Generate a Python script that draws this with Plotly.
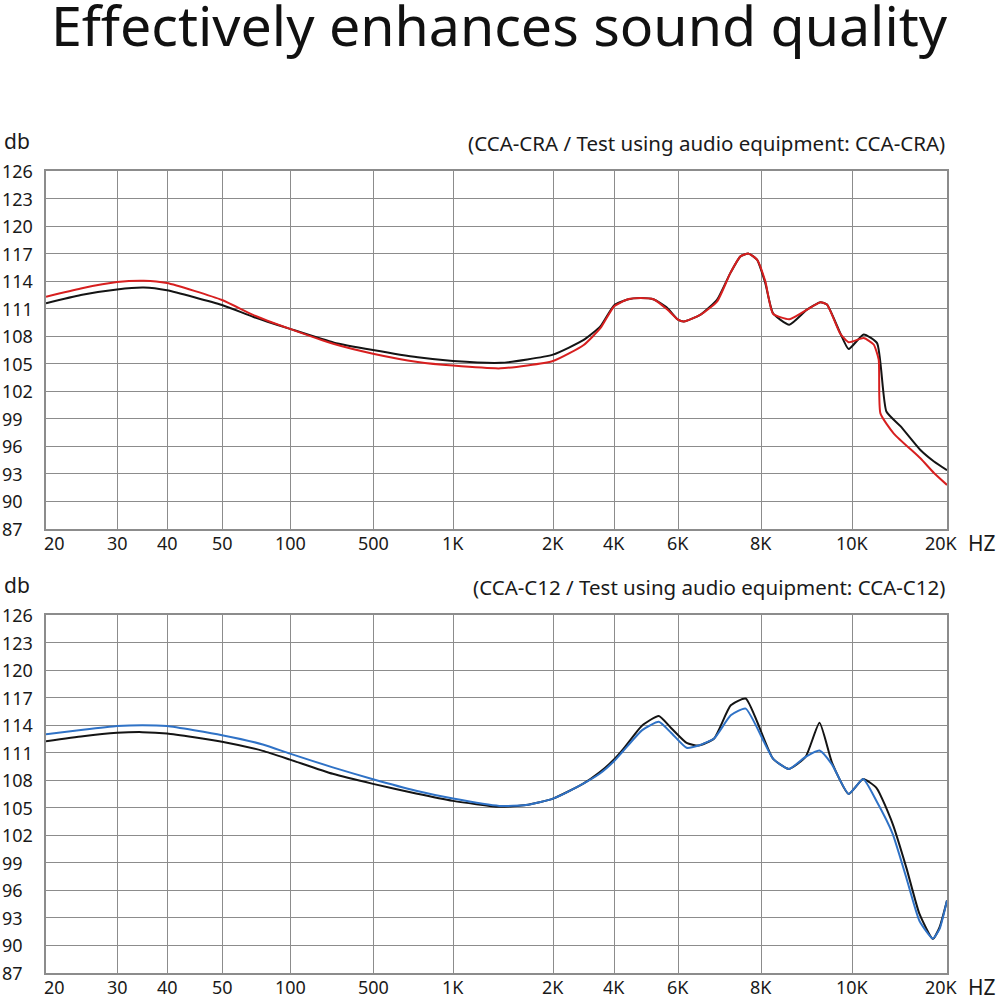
import numpy as np
import plotly.graph_objects as go

# x axis of the printed chart: labelled frequencies and their grid spacing
tick_hz = [20, 30, 40, 50, 100, 500, 1000, 2000, 4000, 6000, 8000, 10000, 20000]
tick_labels = ["20", "30", "40", "50", "100", "500", "1K", "2K", "4K", "6K", "8K", "10K", "20K"]
db_ticks = [87, 90, 93, 96, 99, 102, 105, 108, 111, 114, 117, 120, 123, 126]

# top chart: CCA-CRA (black = reference, red = measured)
cra_ref_hz = [20, 24.4, 30, 35, 40, 50, 69, 100, 235, 500, 737, 1000, 1392, 2000, 2835, 3434,
              4000, 4353, 4736, 5152, 5608, 6000, 6125, 6488, 6873, 7196, 7450, 7664, 7890,
              8084, 8239, 8575, 8955, 9256, 9405, 9714, 9918, 10890, 12008, 12852, 14241,
              16472, 18188, 20000]
cra_ref_db = [111.6, 112.5, 113.1, 113.3, 113.0, 111.4, 110.1, 108.8, 107.3, 106.5, 105.7, 105.3,
              105.1, 106.0, 107.6, 109.1, 111.36, 112.0, 112.16, 112.0, 111.07, 109.8, 109.6,
              110.35, 112.0, 114.9, 116.7, 117.0, 116.35, 113.8, 110.5, 109.25, 110.9, 111.7,
              111.45, 108.35, 106.6, 108.2, 107.25, 99.8, 98.2, 95.6, 94.35, 93.4]
cra_hz = [20, 24.4, 30, 35, 40, 50, 69, 100, 235, 500, 737, 1000, 1392, 2000, 2835, 3434,
          4000, 4353, 4736, 5152, 5608, 6000, 6125, 6488, 6873, 7196, 7450, 7664, 7890,
          8084, 8239, 8575, 8955, 9256, 9405, 9714, 9918, 10890, 11713, 12150, 12304, 13566,
          16472, 18188, 20000]
cra_db = [112.3, 113.2, 113.9, 114.05, 113.8, 111.95, 110.3, 108.8, 107.15, 106.1, 105.2, 104.8,
          104.5, 105.3, 107.05, 108.9, 111.25, 112.0, 112.16, 112.0, 110.9, 109.8, 109.6, 110.35,
          111.8, 114.9, 116.7, 117.0, 116.35, 114.0, 110.45, 109.85, 110.9, 111.7, 111.45, 108.3,
          107.35, 107.8, 107.1, 105.45, 99.6, 97.4, 94.7, 93.1, 91.8]

# bottom chart: CCA-C12 (black = reference, blue = measured)
c12_hz = [20, 24.7, 30, 34.7, 40, 50, 75.8, 100, 229, 500, 726, 1000, 1378, 1659, 2000, 2807,
          3396, 4000, 4234, 4782, 5313, 5742, 6182, 6444, 6801, 7204, 7587, 8238, 8567, 8924,
          9234, 9523, 9918, 10845, 11966, 13435, 14887, 16350, 18038, 18949, 20000]
c12_ref_db = [112.25, 112.8, 113.16, 113.24, 113.1, 112.2, 111.2, 110.25, 108.7, 107.6, 106.55,
              105.75, 105.1, 105.3, 106.0, 107.6, 108.86, 110.25, 111.35, 113.97, 115.0, 113.7,
              112.07, 111.78, 112.55, 116.16, 116.9, 110.36, 109.23, 110.54, 114.26, 109.9, 106.5,
              108.13, 107.15, 103.3, 98.4, 93.46, 90.7, 92.0, 94.9]
c12_db = [113.0, 113.5, 113.9, 114.0, 113.9, 112.9, 111.9, 110.9, 109.4, 108.1, 106.85, 106.0,
          105.2, 105.3, 106.0, 107.6, 108.7, 110.07, 111.16, 113.46, 114.37, 113.17, 111.53,
          111.78, 112.55, 115.07, 115.8, 110.36, 109.23, 110.54, 111.23, 109.7, 106.5, 108.13,
          105.7, 102.2, 97.3, 92.7, 90.75, 91.8, 94.9]

# the printed frequency axis is not a true log axis, each labelled step has its own width
tick_pos = [0, 71, 121, 176, 244, 327, 407, 507, 568, 632, 715, 806, 901]


def to_axis(hz):
    return np.interp(np.log(hz), np.log(tick_hz), tick_pos)


FONT = "Noto Sans"
GRID = "#8c8c8c"
BLACK = "#141414"
RED = "#d71f1f"
BLUE = "#2f72c6"

fig = go.Figure()
line_kw = dict(mode="lines", line_shape="spline", showlegend=False, hoverinfo="skip")
fig.add_trace(go.Scatter(x=to_axis(cra_ref_hz), y=cra_ref_db, line=dict(color=BLACK, width=2, smoothing=0.5),
                         xaxis="x", yaxis="y", **line_kw))
fig.add_trace(go.Scatter(x=to_axis(cra_hz), y=cra_db, line=dict(color=RED, width=2, smoothing=0.5),
                         xaxis="x", yaxis="y", **line_kw))
fig.add_trace(go.Scatter(x=to_axis(c12_hz), y=c12_ref_db, line=dict(color=BLACK, width=2, smoothing=0.5),
                         xaxis="x2", yaxis="y2", **line_kw))
fig.add_trace(go.Scatter(x=to_axis(c12_hz), y=c12_db, line=dict(color=BLUE, width=2, smoothing=0.5),
                         xaxis="x2", yaxis="y2", **line_kw))

W, H = 1000, 996
xdom = [46 / W, 947 / W]
top_dom = [1 - 529 / H, 1 - 171 / H]
bot_dom = [1 - 973 / H, 1 - 615 / H]

xaxis_kw = dict(range=[0, tick_pos[-1]], tickvals=tick_pos, showticklabels=False, showgrid=True,
                gridcolor=GRID, gridwidth=1.3, showline=True, linecolor=GRID, linewidth=1.5,
                mirror=True, zeroline=False, ticks="", domain=xdom)
yaxis_kw = dict(range=[87, 126], tickvals=db_ticks, showticklabels=False, showgrid=True,
                gridcolor=GRID, gridwidth=1.3, showline=True, linecolor=GRID, linewidth=1.5,
                mirror=True, zeroline=False, ticks="")

fig.update_layout(
    width=W, height=H,
    margin=dict(l=0, r=0, t=0, b=0),
    paper_bgcolor="white", plot_bgcolor="white",
    font=dict(family=FONT, color="#1a1a1a"),
    xaxis=dict(anchor="y", **xaxis_kw),
    yaxis=dict(anchor="x", domain=top_dom, **yaxis_kw),
    xaxis2=dict(anchor="y2", **xaxis_kw),
    yaxis2=dict(anchor="x2", domain=bot_dom, **yaxis_kw),
)

ann = []
ann.append(dict(text="Effectively enhances sound quality", x=0.499, y=1 - 25 / H, xref="paper", yref="paper",
                xanchor="center", yanchor="middle", showarrow=False, font=dict(size=55.5, color="#111")))

panels = [("x", "y", top_dom, "(CCA-CRA / Test using audio equipment: CCA-CRA)"),
          ("x2", "y2", bot_dom, "(CCA-C12 / Test using audio equipment: CCA-C12)")]
for xr, yr, dom, caption in panels:
    ann.append(dict(text="db", x=2 / W, y=dom[1] + 30 / H, xref="paper", yref="paper",
                    xanchor="left", yanchor="middle", showarrow=False, font=dict(size=21)))
    ann.append(dict(text=caption, x=xdom[1], y=dom[1] + 28 / H, xref="paper", yref="paper",
                    xanchor="right", yanchor="middle", showarrow=False, font=dict(size=20.5)))
    for v in db_ticks:
        ann.append(dict(text=str(v), x=0, y=v, xref="paper", yref=yr, xanchor="left",
                        yanchor="middle", showarrow=False, font=dict(size=18)))
    for i, (p, lab) in enumerate(zip(tick_pos, tick_labels)):
        shift = 8 if i == 0 else (-6 if i == len(tick_pos) - 1 else 0)
        ann.append(dict(text=lab, x=p, y=dom[0] - 14 / H, xref=xr, yref="paper", xanchor="center",
                        yanchor="middle", xshift=shift, showarrow=False, font=dict(size=18)))
    ann.append(dict(text="HZ", x=982 / W, y=dom[0] - 14 / H, xref="paper", yref="paper",
                    xanchor="center", yanchor="middle", showarrow=False, font=dict(size=21)))

fig.update_layout(annotations=ann)
fig.write_html("out.html", config={"displayModeBar": False},
               post_script="document.body.style.margin='0';")
